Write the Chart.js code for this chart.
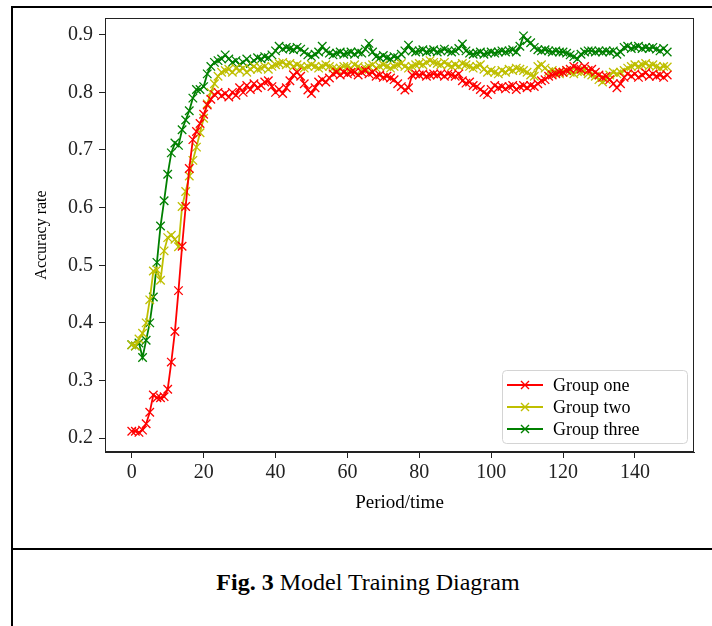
<!DOCTYPE html>
<html>
<head>
<meta charset="utf-8">
<script src="https://cdn.jsdelivr.net/npm/chart.js@4.4.1/dist/chart.umd.min.js"></script>
<style>
  html, body { margin: 0; padding: 0; background: #fff; }
  body { width: 712px; height: 626px; position: relative; overflow: hidden; font-family: "Liberation Serif", "Times New Roman", serif; }
  #wrap { position: absolute; left: 0; top: 0; width: 712px; height: 530px; }
  .rule { position: absolute; background: #000; }
  #caption { position: absolute; left: 12px; width: 712px; top: 569px; text-align: center; font-size: 24px; color: #000; }
</style>
</head>
<body>
<div class="rule" style="left:12px; top:6px; width:700px; height:2px;"></div>
<div class="rule" style="left:11px; top:6px; width:2px; height:620px;"></div>
<div class="rule" style="left:12px; top:548px; width:700px; height:2px;"></div>
<div id="wrap"><canvas id="chart" width="712" height="530"></canvas></div>
<div id="caption"><b>Fig. 3</b> Model Training Diagram</div>
<script>
const periods = Array.from({ length: 150 }, (_, i) => i);
const xTicks = [0, 20, 40, 60, 80, 100, 120, 140];
const yTicks = [0.2, 0.3, 0.4, 0.5, 0.6, 0.7, 0.8, 0.9];
const seriesNames = ["Group one", "Group two", "Group three"];

const groupOne = [
  0.212, 0.212, 0.210, 0.214, 0.225, 0.245, 0.275, 0.270, 0.270, 0.272,
  0.285, 0.332, 0.385, 0.456, 0.533, 0.602, 0.668, 0.718, 0.732, 0.746,
  0.762, 0.778, 0.788, 0.796, 0.800, 0.794, 0.798, 0.792, 0.800, 0.795,
  0.808, 0.800, 0.812, 0.805, 0.815, 0.808, 0.812, 0.818, 0.820, 0.810,
  0.800, 0.805, 0.798, 0.808, 0.820, 0.830, 0.835, 0.828, 0.815, 0.804,
  0.798, 0.808, 0.818, 0.822, 0.818, 0.825, 0.832, 0.835, 0.830, 0.835,
  0.832, 0.835, 0.835, 0.830, 0.835, 0.838, 0.832, 0.835, 0.828, 0.830,
  0.826, 0.828, 0.825, 0.822, 0.815, 0.810, 0.804, 0.808, 0.830, 0.832,
  0.830, 0.832, 0.828, 0.830, 0.832, 0.830, 0.832, 0.828, 0.832, 0.830,
  0.828, 0.832, 0.820, 0.816, 0.818, 0.812, 0.810, 0.805, 0.800, 0.796,
  0.805, 0.812, 0.808, 0.810, 0.806, 0.810, 0.812, 0.805, 0.810, 0.812,
  0.808, 0.812, 0.810, 0.815, 0.820, 0.822, 0.828, 0.830, 0.832, 0.835,
  0.835, 0.838, 0.840, 0.845, 0.842, 0.840, 0.845, 0.838, 0.840, 0.835,
  0.830, 0.826, 0.828, 0.822, 0.815, 0.808, 0.815, 0.826, 0.832, 0.828,
  0.832, 0.826, 0.830, 0.834, 0.828, 0.832, 0.828, 0.830, 0.826, 0.830
];

const groupTwo = [
  0.362, 0.360, 0.372, 0.382, 0.400, 0.440, 0.490, 0.492, 0.474, 0.525,
  0.548, 0.552, 0.545, 0.532, 0.602, 0.628, 0.655, 0.682, 0.705, 0.730,
  0.755, 0.780, 0.800, 0.815, 0.828, 0.835, 0.838, 0.840, 0.835, 0.842,
  0.838, 0.842, 0.835, 0.840, 0.845, 0.840, 0.842, 0.845, 0.840, 0.845,
  0.848, 0.850, 0.852, 0.848, 0.850, 0.845, 0.848, 0.845, 0.842, 0.845,
  0.848, 0.845, 0.842, 0.845, 0.848, 0.845, 0.842, 0.840, 0.842, 0.845,
  0.845, 0.842, 0.848, 0.845, 0.840, 0.842, 0.845, 0.848, 0.842, 0.845,
  0.848, 0.845, 0.842, 0.845, 0.848, 0.850, 0.845, 0.842, 0.845, 0.848,
  0.850, 0.848, 0.852, 0.855, 0.852, 0.850, 0.848, 0.852, 0.848, 0.845,
  0.848, 0.845, 0.850, 0.848, 0.845, 0.842, 0.845, 0.848, 0.840, 0.835,
  0.838, 0.835, 0.832, 0.838, 0.835, 0.840, 0.838, 0.842, 0.840, 0.838,
  0.835, 0.830, 0.828, 0.845, 0.848, 0.842, 0.836, 0.838, 0.835, 0.832,
  0.835, 0.838, 0.835, 0.832, 0.836, 0.835, 0.838, 0.832, 0.830, 0.828,
  0.822, 0.818, 0.822, 0.830, 0.835, 0.832, 0.835, 0.838, 0.842, 0.845,
  0.848, 0.845, 0.848, 0.850, 0.846, 0.848, 0.845, 0.842, 0.845, 0.844
];

const groupThree = [
  0.362, 0.360, 0.365, 0.340, 0.370, 0.400, 0.445, 0.505, 0.568, 0.612,
  0.658, 0.695, 0.712, 0.708, 0.735, 0.752, 0.768, 0.790, 0.805, 0.805,
  0.810, 0.832, 0.845, 0.852, 0.855, 0.858, 0.865, 0.858, 0.852, 0.855,
  0.848, 0.852, 0.858, 0.850, 0.855, 0.860, 0.858, 0.862, 0.860, 0.865,
  0.872, 0.880, 0.875, 0.878, 0.876, 0.874, 0.878, 0.875, 0.870, 0.865,
  0.862, 0.866, 0.870, 0.880, 0.872, 0.868, 0.865, 0.868, 0.870, 0.866,
  0.868, 0.870, 0.866, 0.870, 0.868, 0.875, 0.885, 0.870, 0.862, 0.860,
  0.864, 0.860, 0.858, 0.862, 0.860, 0.866, 0.872, 0.882, 0.872, 0.870,
  0.872, 0.874, 0.870, 0.872, 0.874, 0.870, 0.872, 0.875, 0.872, 0.870,
  0.872, 0.876, 0.884, 0.872, 0.868, 0.866, 0.868, 0.870, 0.866, 0.868,
  0.870, 0.868, 0.870, 0.872, 0.870, 0.872, 0.874, 0.870, 0.880, 0.898,
  0.890, 0.886, 0.878, 0.874, 0.872, 0.874, 0.872, 0.870, 0.872, 0.870,
  0.870, 0.868, 0.865, 0.862, 0.858, 0.866, 0.870, 0.872, 0.872, 0.870,
  0.872, 0.870, 0.872, 0.870, 0.872, 0.866, 0.870, 0.878, 0.880, 0.876,
  0.878, 0.880, 0.876, 0.878, 0.876, 0.878, 0.875, 0.872, 0.876, 0.870
];

const seriesValues = [groupOne, groupTwo, groupThree];
const seriesColors = ["#ff0000", "#bfbf00", "#008000"];
const serif = "'Liberation Serif', 'Times New Roman', serif";

// frame around the plot + legend box in the lower right corner
const framePlugin = {
  id: "frame",
  afterDraw(chart) {
    const { ctx, chartArea } = chart;
    ctx.save();
    ctx.strokeStyle = "#222";
    ctx.lineWidth = 1;
    ctx.strokeRect(chartArea.left + 0.5, chartArea.top + 0.5,
      chartArea.right - chartArea.left - 1, chartArea.bottom - chartArea.top - 1);

    const boxW = 185, boxH = 73;
    const bx = chartArea.right - 7 - boxW;
    const by = chartArea.bottom - 9 - boxH;
    ctx.beginPath();
    ctx.roundRect(bx + 0.5, by + 0.5, boxW, boxH, 4);
    ctx.fillStyle = "rgba(255,255,255,0.85)";
    ctx.fill();
    ctx.strokeStyle = "#d4d4d4";
    ctx.stroke();

    ctx.font = "18px " + serif;
    ctx.textBaseline = "middle";
    chart.data.datasets.forEach((ds, i) => {
      const y = by + 15 + i * 22;
      ctx.strokeStyle = ds.borderColor;
      ctx.lineWidth = 2;
      ctx.beginPath();
      ctx.moveTo(bx + 5, y);
      ctx.lineTo(bx + 41, y);
      ctx.stroke();
      const cx = bx + 23, r = 4;
      ctx.lineWidth = 1.4;
      ctx.beginPath();
      ctx.moveTo(cx - r, y - r); ctx.lineTo(cx + r, y + r);
      ctx.moveTo(cx - r, y + r); ctx.lineTo(cx + r, y - r);
      ctx.stroke();
      ctx.fillStyle = "#000";
      ctx.fillText(ds.label, bx + 51, y + 1);
    });
    ctx.restore();
  }
};

const datasets = seriesNames.map((name, k) => ({
  label: name,
  data: periods.map((p, i) => ({ x: p, y: seriesValues[k][i] })),
  borderColor: seriesColors[k],
  backgroundColor: seriesColors[k],
  borderWidth: 1.8,
  pointStyle: "crossRot",
  pointRadius: 6,
  pointBorderWidth: 1.3,
  pointBorderColor: seriesColors[k],
  tension: 0
}));

new Chart(document.getElementById("chart"), {
  type: "line",
  data: { datasets },
  options: {
    responsive: false,
    devicePixelRatio: 1,
    animation: false,
    layout: { padding: { top: 12, right: 18, bottom: 0, left: 0 } },
    plugins: { legend: { display: false }, tooltip: { enabled: false } },
    scales: {
      x: {
        type: "linear",
        min: -7.45,
        max: 156.45,
        afterBuildTicks: (scale) => { scale.ticks = xTicks.map((v) => ({ value: v })); },
        afterFit: (scale) => { scale.height = 78; },
        grid: { drawOnChartArea: false, drawTicks: true, tickLength: 6, color: "#222" },
        border: { display: true, color: "#222" },
        ticks: { autoSkip: false, maxRotation: 0, padding: 3, color: "#222", font: { family: serif, size: 20 } },
        title: { display: true, text: "Period/time", color: "#000", padding: { top: 0, bottom: 16 }, font: { family: serif, size: 19 } }
      },
      y: {
        type: "linear",
        min: 0.176,
        max: 0.929,
        afterBuildTicks: (scale) => { scale.ticks = yTicks.map((v) => ({ value: v })); },
        afterFit: (scale) => { scale.width = 105; },
        grid: { drawOnChartArea: false, drawTicks: true, tickLength: 6, color: "#222" },
        border: { display: true, color: "#222" },
        ticks: { padding: 6, color: "#222", font: { family: serif, size: 20 }, callback: (v) => v.toFixed(1) },
        title: { display: true, text: "Accuracy rate", color: "#000", padding: { top: 32, bottom: 0 }, font: { family: serif, size: 16 } }
      }
    }
  },
  plugins: [framePlugin]
});
</script>
</body>
</html>
